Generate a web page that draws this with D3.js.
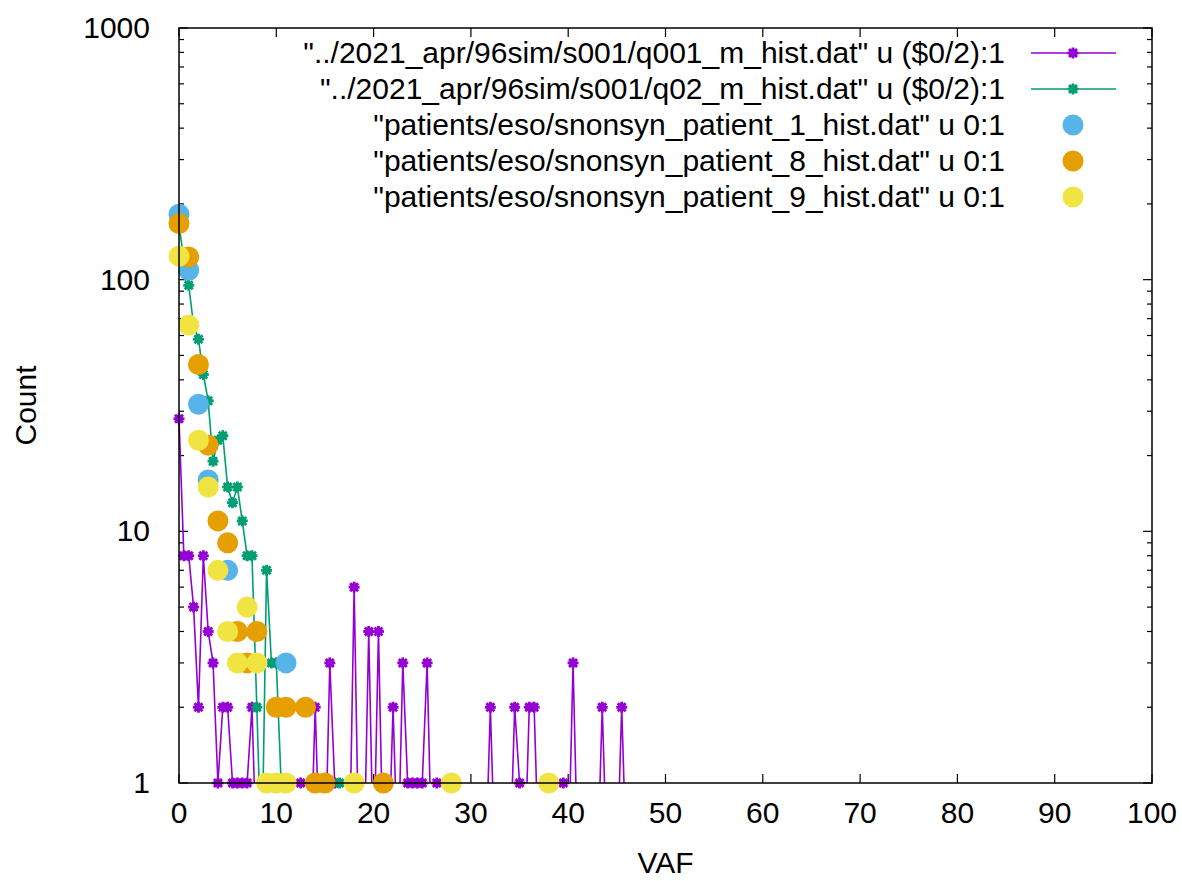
<!DOCTYPE html>
<html>
<head>
<meta charset="utf-8">
<script src="https://cdn.jsdelivr.net/npm/d3@7"></script>
<style>
body { margin: 0; background: #fff; }
svg text { font-family: "Liberation Sans", Arial, sans-serif; fill: #000; }
</style>
</head>
<body>
<script>
// simulated histograms, one count per half-unit bin (x = row / 2)
const q001Counts = [28, 8, 8, 5, 2, 8, 4, 3, 1, 2, 2, 1, 1, 1, 1, 2,
    0, 0, 0, 0, 0, 0, 0, 0, 0, 1, 0, 0, 2, 0, 0, 3, 1, 0, 0, 0, 6, 0, 0, 4, 0, 4, 0, 0, 2, 0,
    3, 1, 1, 1, 1, 3, 0, 1, 0, 0, 0, 0, 0, 0, 0, 0, 0, 0, 2, 0, 0, 0, 0, 2, 1, 0, 2, 2,
    0, 0, 0, 0, 0, 1, 0, 3, 0, 0, 0, 0, 0, 2, 0, 0, 0, 2, 0];
const q02Counts = [165, 120, 95, 66, 58, 42, 33, 19, 23, 24, 15, 13, 15, 11, 8, 8, 2, 0, 7, 3,
    3, 1, 1, 0, 0, 0, 0, 0, 0, 0, 0, 0, 0, 1, 0];

// patient histograms, one count per integer bin (x = row)
const patient1Counts = [182, 109, 32, 16, 0, 7, 0, 0, 0, 0, 0, 3];
const patient8Counts = [167, 123, 46, 22, 11, 9, 4, 3, 4, 0, 2, 2, 0, 2, 1, 1, 0, 0, 0, 0, 0, 1];
const patient9Counts = [124, 66, 23, 15, 7, 4, 3, 5, 3, 1, 1, 1, 0, 0, 0, 0, 0, 0, 1,
    0, 0, 0, 0, 0, 0, 0, 0, 0, 1, 0, 0, 0, 0, 0, 0, 0, 0, 0, 1];

const legendLabels = [
    "\"../2021_apr/96sim/s001/q001_m_hist.dat\" u ($0/2):1",
    "\"../2021_apr/96sim/s001/q02_m_hist.dat\" u ($0/2):1",
    "\"patients/eso/snonsyn_patient_1_hist.dat\" u 0:1",
    "\"patients/eso/snonsyn_patient_8_hist.dat\" u 0:1",
    "\"patients/eso/snonsyn_patient_9_hist.dat\" u 0:1"
];
const xTicks = [0, 10, 20, 30, 40, 50, 60, 70, 80, 90, 100];
const yTicks = [1, 10, 100, 1000];

const colors = ["#9400d3", "#009e73", "#56b4e9", "#e69f00", "#f0e442"];

const width = 1182;
const height = 881;
const margin = { top: 28, right: 30, bottom: 98, left: 179 };
const zeroFloor = 0.45; // where empty bins are sent on the log axis for the lines
const fontSize = "30px";

const svg = d3.select("body").append("svg")
    .attr("width", width)
    .attr("height", height);

const x = d3.scaleLinear()
    .domain([0, 100])
    .range([margin.left, width - margin.right]);

const y = d3.scaleLog()
    .domain([1, 1000])
    .range([height - margin.bottom, margin.top]);

const x0 = x.range()[0], x1 = x.range()[1];
const y0 = y.range()[0], y1 = y.range()[1];

svg.append("defs").append("clipPath").attr("id", "plotClip")
    .append("rect")
    .attr("x", x0 - 20).attr("y", 0)
    .attr("width", x1 - x0 + 20).attr("height", y0);

// ticks (inward, mirrored)
const minorY = [];
[1, 10, 100].forEach(d => { for (let k = 2; k <= 9; k++) minorY.push(d * k); });

const ticks = svg.append("g").attr("stroke", "#000").attr("stroke-width", 1.2);
xTicks.forEach(t => {
    ticks.append("line").attr("x1", x(t)).attr("x2", x(t)).attr("y1", y0).attr("y2", y0 - 9);
    ticks.append("line").attr("x1", x(t)).attr("x2", x(t)).attr("y1", y1).attr("y2", y1 + 9);
});
yTicks.forEach(t => {
    ticks.append("line").attr("x1", x0).attr("x2", x0 + 9).attr("y1", y(t)).attr("y2", y(t));
    ticks.append("line").attr("x1", x1).attr("x2", x1 - 9).attr("y1", y(t)).attr("y2", y(t));
});
minorY.forEach(t => {
    ticks.append("line").attr("x1", x0).attr("x2", x0 + 5).attr("y1", y(t)).attr("y2", y(t));
    ticks.append("line").attr("x1", x1).attr("x2", x1 - 5).attr("y1", y(t)).attr("y2", y(t));
});

svg.append("g").selectAll("text")
    .data(xTicks).enter().append("text")
    .attr("x", d => x(d))
    .attr("y", y0 + 40)
    .attr("text-anchor", "middle")
    .style("font-size", fontSize)
    .text(d => d);

svg.append("g").selectAll("text")
    .data(yTicks).enter().append("text")
    .attr("x", x0 - 29)
    .attr("y", d => y(d) + 10)
    .attr("text-anchor", "end")
    .style("font-size", fontSize)
    .text(d => d);

svg.append("text")
    .attr("x", (x0 + x1) / 2)
    .attr("y", 873)
    .attr("text-anchor", "middle")
    .style("font-size", fontSize)
    .text("VAF");

svg.append("text")
    .attr("transform", `translate(36,${(y0 + y1) / 2}) rotate(-90)`)
    .attr("text-anchor", "middle")
    .style("font-size", fontSize)
    .text("Count");

// star marker like gnuplot pointtype 3
function star(g, cx, cy, color) {
    const a = 5.5, b = 4;
    const s = g.append("g").attr("stroke", color).attr("stroke-width", 2.8);
    s.append("line").attr("x1", cx - a).attr("x2", cx + a).attr("y1", cy).attr("y2", cy);
    s.append("line").attr("x1", cx).attr("x2", cx).attr("y1", cy - a).attr("y2", cy + a);
    s.append("line").attr("x1", cx - b).attr("x2", cx + b).attr("y1", cy - b).attr("y2", cy + b);
    s.append("line").attr("x1", cx - b).attr("x2", cx + b).attr("y1", cy + b).attr("y2", cy - b);
    g.append("circle").attr("cx", cx).attr("cy", cy).attr("r", 4).attr("fill", color);
}

const line = d3.line()
    .x((d, i) => x(i / 2))
    .y(d => y(Math.max(d, zeroFloor)));

[q001Counts, q02Counts].forEach((counts, k) => {
    svg.append("path")
        .datum(counts)
        .attr("clip-path", "url(#plotClip)")
        .attr("fill", "none")
        .attr("stroke", colors[k])
        .attr("stroke-width", 1.6)
        .attr("d", line);
    const pts = svg.append("g");
    counts.forEach((d, i) => {
        if (d > 0) star(pts, x(i / 2), y(d), colors[k]);
    });
});

[patient1Counts, patient8Counts, patient9Counts].forEach((counts, k) => {
    svg.append("g").selectAll("circle")
        .data(counts.map((d, i) => ({ vaf: i, count: d })).filter(d => d.count > 0))
        .enter().append("circle")
        .attr("cx", d => x(d.vaf))
        .attr("cy", d => y(d.count))
        .attr("r", 10.5)
        .attr("fill", colors[k + 2]);
});

// frame
svg.append("rect")
    .attr("x", x0).attr("y", y1)
    .attr("width", x1 - x0).attr("height", y0 - y1)
    .attr("fill", "none")
    .attr("stroke", "#000")
    .attr("stroke-width", 1.5);

// key
const key = svg.append("g");
legendLabels.forEach((label, i) => {
    const ky = 53 + i * 36;
    key.append("text")
        .attr("x", 1005)
        .attr("y", ky + 10)
        .attr("text-anchor", "end")
        .style("font-size", fontSize)
        .text(label);
    if (i < 2) {
        key.append("line")
            .attr("x1", 1031).attr("x2", 1116)
            .attr("y1", ky).attr("y2", ky)
            .attr("stroke", colors[i]).attr("stroke-width", 1.6);
        star(key, 1073, ky, colors[i]);
    } else {
        key.append("circle")
            .attr("cx", 1073).attr("cy", ky)
            .attr("r", 10.5)
            .attr("fill", colors[i]);
    }
});
</script>
</body>
</html>
